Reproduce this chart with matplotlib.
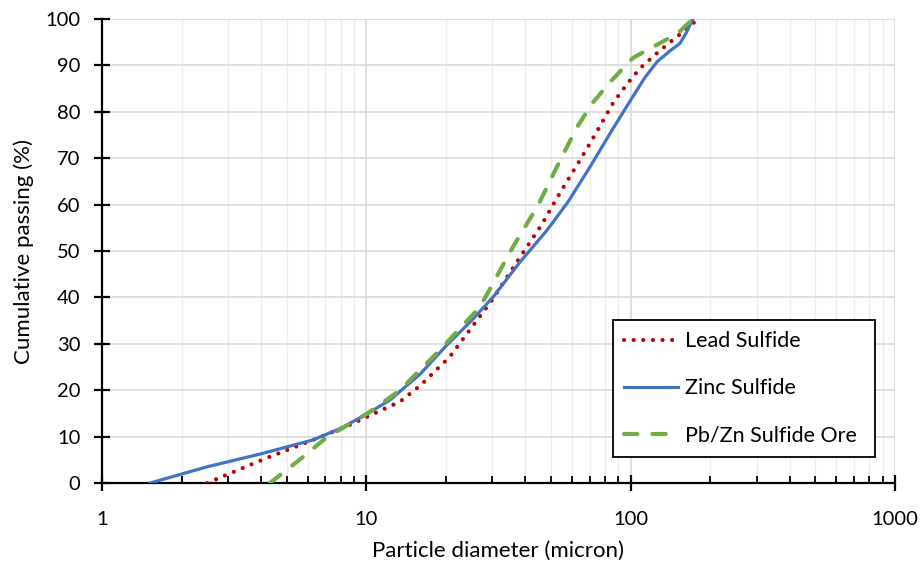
import numpy as np
import matplotlib
matplotlib.use('Agg')
import matplotlib.pyplot as plt
from matplotlib.ticker import LogLocator, NullFormatter

# data (particle size in micron, cumulative passing %)
lead_x = [2.5, 4.2, 6.3, 8.5, 11, 13.4, 16, 20.7, 25, 29.9, 37, 46, 54, 64.4, 75, 85.8, 97, 108.6, 125, 141, 160, 180]
lead_y = [0, 5.4, 9.3, 12.3, 15.3, 17.5, 21, 27.2, 33.5, 39.4, 47.5, 55.6, 62.5, 69.6, 76, 81.9, 86, 89.4, 92.5, 95, 97.5, 100]

zinc_x = [1.52, 2.5, 4.0, 6.3, 8.0, 10, 12.3, 16, 20, 25, 30.2, 38, 48.3, 58, 70, 85, 100, 113, 126, 140, 154, 163, 172]
zinc_y = [0, 3.5, 6.3, 9.3, 11.8, 14.8, 17.9, 23.5, 29.5, 35, 40.1, 47.5, 54.5, 60.6, 68, 76, 82.5, 87.3, 90.8, 93, 94.8, 97.2, 100]

ore_x = [4.32, 5.76, 7.1, 8.5, 10.3, 13.4, 18.5, 26.9, 35.9, 44.7, 53, 62.7, 72, 83.6, 102, 129, 150, 172]
ore_y = [0, 5.6, 9.9, 12.5, 15.3, 20, 28, 37.9, 50.9, 59.9, 68.5, 76.7, 82, 86.4, 91.6, 94.8, 96.8, 100]

plt.rcParams['font.family'] = ['Lato', 'DejaVu Sans']

fig = plt.figure(figsize=(9.22, 5.66), dpi=100)
ax = fig.add_axes([0.1106, 0.1466, 0.8600, 0.8198])

ax.plot(lead_x, lead_y, color='#c00000', linestyle=(0, (0.01, 2.3)), linewidth=3.0,
        dash_capstyle='round', label='Lead Sulfide', zorder=3)
ax.plot(zinc_x, zinc_y, color='#4472c4', linestyle='-', linewidth=2.3,
        label='Zinc Sulfide', zorder=3)
ax.plot(ore_x, ore_y, color='#70ad47', linestyle=(0, (3.2, 3.6)), linewidth=3.0,
        dash_capstyle='round', label='Pb/Zn Sulfide Ore', zorder=3)

ax.set_xscale('log')
ax.set_xlim(1, 1000)
ax.set_ylim(0, 100)
ax.set_xticks([1, 10, 100, 1000])
ax.set_xticklabels(['1', '10', '100', '1000'])
ax.xaxis.set_minor_locator(LogLocator(base=10, subs=np.arange(2, 10)))
ax.xaxis.set_minor_formatter(NullFormatter())
ax.set_yticks(np.arange(0, 101, 10))

ax.grid(True, which='major', color='#d9d9d9', linewidth=1.2, zorder=0)
ax.grid(True, which='minor', axis='x', color='#ececec', linewidth=1.0, zorder=0)
ax.set_axisbelow(True)

for s in ['top', 'right']:
    ax.spines[s].set_visible(False)
for s in ['left', 'bottom']:
    ax.spines[s].set_linewidth(1.6)
    ax.spines[s].set_color('black')

ax.tick_params(axis='both', which='major', direction='inout', length=11, width=1.6,
               labelsize=14.5, colors='black')
ax.tick_params(axis='x', which='minor', direction='in', length=5, width=1.3)
ax.tick_params(axis='x', which='major', pad=15)
ax.tick_params(axis='y', which='major', pad=10)

ax.set_xlabel('Particle diameter (micron)', fontsize=16, labelpad=9)
ax.set_ylabel('Cumulative passing (%)', fontsize=16, labelpad=8)

leg = ax.legend(loc='lower left', bbox_to_anchor=(0.644, 0.056, 0.331, 0.30),
                mode='expand', fontsize=15.5, frameon=True, fancybox=False,
                edgecolor='black', framealpha=1, borderpad=0.55, labelspacing=1.25,
                handlelength=2.5, handletextpad=0.3, borderaxespad=0)
leg.get_frame().set_linewidth(1.3)

fig.savefig('out.png', dpi=100)
